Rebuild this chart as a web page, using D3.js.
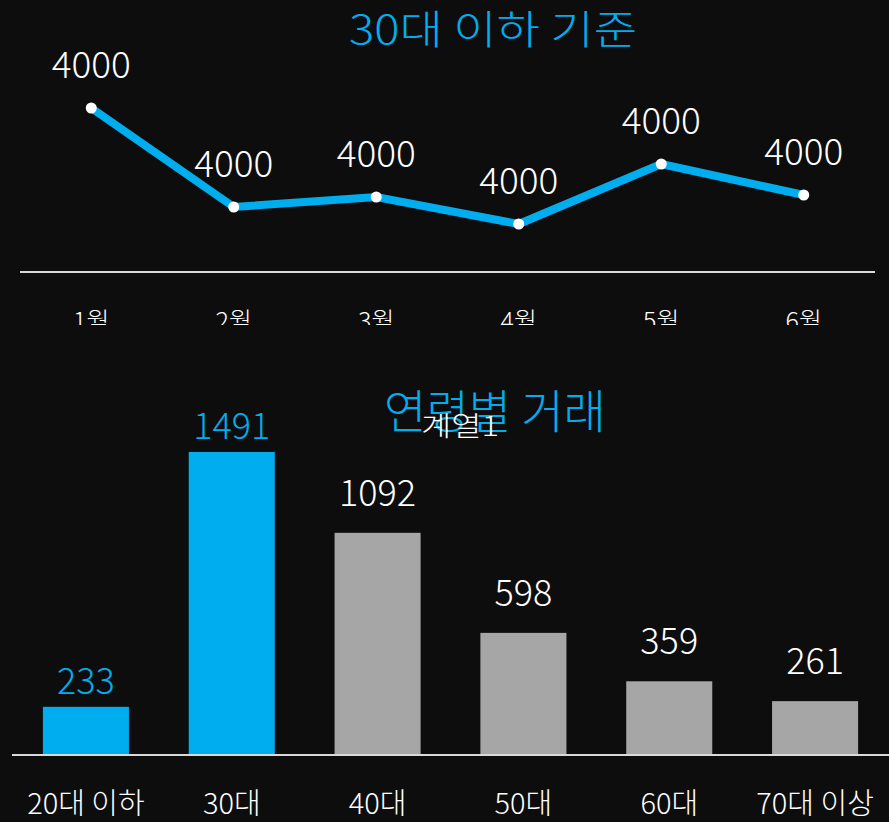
<!DOCTYPE html>
<html>
<head>
    <meta charset="utf-8">
    <title>연령별 거래</title>
    <script src="https://cdn.jsdelivr.net/npm/d3@7"></script>
    <style>
        body { margin: 0; background: #0d0d0d; }
        svg { display: block; }
        text { font-family: "Noto Sans CJK KR", "Noto Sans", sans-serif; }
    </style>
</head>
<body>
    <svg width="889" height="822"></svg>

    <script>
        // 위 차트 - 월별 (라벨은 모두 4000으로 표시됨)
        var months = ["1월", "2월", "3월", "4월", "5월", "6월"];
        var monthValues = [166, 67, 77, 50, 110, 79];
        var monthLabels = ["4000", "4000", "4000", "4000", "4000", "4000"];

        // 아래 차트 - 연령별
        var ages = ["20대 이하", "30대", "40대", "50대", "60대", "70대 이상"];
        var ageValues = [233, 1491, 1092, 598, 359, 261];
        var highlight = ["20대 이하", "30대"];

        var blue = "#00aeef";
        var gray = "#a6a6a6";

        var svg = d3.select("svg");

        // ---------- 라인 차트 ----------
        var x1 = d3.scaleBand().domain(months).range([20, 875]);
        var y1 = d3.scaleLinear().domain([0, 166]).range([274, 108]);

        svg.append("defs").append("clipPath").attr("id", "clipTop")
            .append("rect").attr("x", 0).attr("y", 0).attr("width", 889).attr("height", 325);

        svg.append("text")
            .attr("x", 493).attr("y", 44)
            .attr("text-anchor", "middle")
            .attr("fill", blue)
            .attr("font-size", 40)
            .attr("font-weight", 300)
            .attr("textLength", 288)
            .attr("lengthAdjust", "spacingAndGlyphs")
            .text("30대 이하 기준");

        svg.append("line")
            .attr("x1", 20).attr("x2", 875)
            .attr("y1", 272).attr("y2", 272)
            .attr("stroke", "#d9d9d9").attr("stroke-width", 2);

        svg.append("g")
            .attr("clip-path", "url(#clipTop)")
            .selectAll("text")
            .data(months)
            .enter()
            .append("text")
            .attr("x", function (d) { return x1(d) + x1.bandwidth() / 2; })
            .attr("y", 330)
            .attr("text-anchor", "middle")
            .attr("fill", "#fff")
            .attr("font-size", 25)
            .attr("font-weight", 300)
            .text(function (d) { return d; });

        var line = d3.line()
            .x(function (d, i) { return x1(months[i]) + x1.bandwidth() / 2; })
            .y(function (d) { return y1(d); });

        svg.append("path")
            .datum(monthValues)
            .attr("d", line)
            .attr("fill", "none")
            .attr("stroke", blue)
            .attr("stroke-width", 8);

        svg.append("g").selectAll("circle")
            .data(monthValues)
            .enter()
            .append("circle")
            .attr("cx", function (d, i) { return x1(months[i]) + x1.bandwidth() / 2; })
            .attr("cy", function (d) { return y1(d); })
            .attr("r", 5.5)
            .attr("fill", "#fff");

        svg.append("g").selectAll("text")
            .data(monthValues)
            .enter()
            .append("text")
            .attr("x", function (d, i) { return x1(months[i]) + x1.bandwidth() / 2; })
            .attr("y", function (d) { return y1(d) - 30; })
            .attr("text-anchor", "middle")
            .attr("fill", "#fff")
            .attr("font-size", 37)
            .attr("font-weight", 300)
            .text(function (d, i) { return monthLabels[i]; });

        // ---------- 막대 차트 ----------
        var x2 = d3.scaleBand().domain(ages).range([13, 888]).paddingInner(0.41).paddingOuter(0.205);
        var y2 = d3.scaleLinear().domain([0, 1491]).range([754, 452]);

        svg.append("text")
            .attr("x", 495).attr("y", 428)
            .attr("text-anchor", "middle")
            .attr("fill", blue)
            .attr("font-size", 46)
            .attr("font-weight", 300)
            .text("연령별 거래");

        svg.append("text")
            .attr("x", 460).attr("y", 436)
            .attr("text-anchor", "middle")
            .attr("fill", "#fff")
            .attr("font-size", 27)
            .attr("font-weight", 300)
            .attr("textLength", 78)
            .attr("lengthAdjust", "spacingAndGlyphs")
            .text("계열1");

        svg.append("g").selectAll("rect")
            .data(ageValues)
            .enter()
            .append("rect")
            .attr("x", function (d, i) { return x2(ages[i]); })
            .attr("y", function (d) { return y2(d); })
            .attr("width", x2.bandwidth())
            .attr("height", function (d) { return y2(0) - y2(d); })
            .attr("fill", function (d, i) { return highlight.indexOf(ages[i]) >= 0 ? blue : gray; });

        svg.append("line")
            .attr("x1", 12).attr("x2", 889)
            .attr("y1", 755).attr("y2", 755)
            .attr("stroke", "#d9d9d9").attr("stroke-width", 2);

        svg.append("g").selectAll("text")
            .data(ageValues)
            .enter()
            .append("text")
            .attr("x", function (d, i) { return x2(ages[i]) + x2.bandwidth() / 2; })
            .attr("y", function (d, i) {
                return highlight.indexOf(ages[i]) >= 0 ? y2(d) - 13 : y2(d) - 27;
            })
            .attr("text-anchor", "middle")
            .attr("fill", function (d, i) { return highlight.indexOf(ages[i]) >= 0 ? blue : "#fff"; })
            .attr("font-size", 36)
            .attr("font-weight", 300)
            .text(function (d) { return d; });

        svg.append("g").selectAll("text")
            .data(ages)
            .enter()
            .append("text")
            .attr("x", function (d) { return x2(d) + x2.bandwidth() / 2; })
            .attr("y", 814)
            .attr("text-anchor", "middle")
            .attr("fill", "#fff")
            .attr("font-size", 29)
            .attr("font-weight", 300)
            .text(function (d) { return d; });
    </script>
</body>
</html>
